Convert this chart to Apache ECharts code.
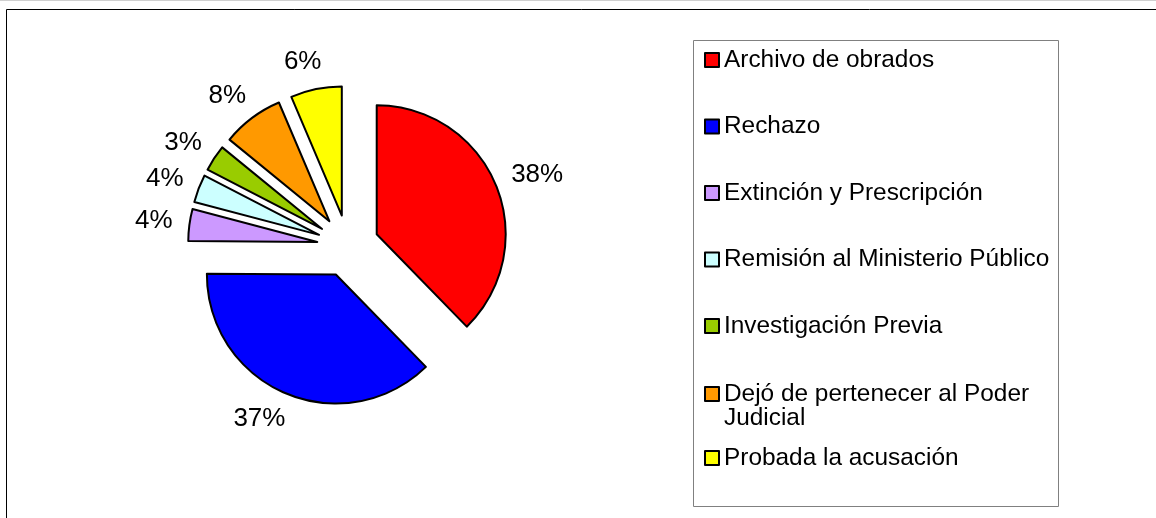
<!DOCTYPE html>
<html><head><meta charset="utf-8">
<script src="https://cdn.jsdelivr.net/npm/echarts@6/dist/echarts.min.js"></script>
<style>html,body{margin:0;padding:0;background:#fff}#c{width:1156px;height:518px}</style>
</head><body><div id="c"></div>
<script>
const categories = ['Archivo de obrados', 'Rechazo', 'Extinción y Prescripción', 'Remisión al Ministerio Público', 'Investigación Previa', 'Dejó de pertenecer al Poder Judicial', 'Probada la acusación'];
const shares = [37.7, 37.4, 4.0, 3.5, 3.3, 7.7, 6.4];
const colors = ['#FF0000', '#0000FF', '#CC99FF', '#CCFFFF', '#99CC00', '#FF9900', '#FFFF00'];

const FONT = '"Liberation Sans", Arial, sans-serif';
const chart = echarts.init(document.getElementById('c'), null, {renderer: 'canvas'});
const legendText = {fontFamily: FONT, fontSize: 24.4, color: '#000', lineHeight: 24};
const legendBase = {
  orient: 'vertical', left: 704, itemWidth: 14, itemHeight: 14, padding: 0,
  textStyle: legendText, selectedMode: false, icon: 'rect',
  itemStyle: {borderColor: '#000', borderWidth: 2}
};
const option = {
  animation: false,
  backgroundColor: '#fff',
  graphic: [
    {type: 'rect', silent: true, shape: {x: 6.5, y: 9.5, width: 1400, height: 800}, style: {fill: 'none', stroke: '#000', lineWidth: 1}},
    {type: 'line', silent: true, shape: {x1: 0, y1: 0.5, x2: 1156, y2: 0.5}, style: {stroke: '#d0d0d0', lineWidth: 1}},
    {type: 'rect', silent: true, shape: {x: 693.5, y: 40.5, width: 365, height: 466}, style: {fill: 'none', stroke: '#808080', lineWidth: 1}}
  ],
  legend: [
    Object.assign({}, legendBase, {top: 48, itemGap: 42.5, data: categories.slice(0, 5)}),
    Object.assign({}, legendBase, {
      top: 358, data: [categories[5]],
      formatter: n => '\n' + n,
      textStyle: Object.assign({}, legendText, {width: 330, overflow: 'break'})
    }),
    Object.assign({}, legendBase, {top: 446, data: [categories[6]]})
  ],
  series: [{
    type: 'pie',
    center: [348, 246],
    radius: 129,
    startAngle: 90,
    clockwise: true,
    selectedMode: 'multiple',
    selectedOffset: 31,
    avoidLabelOverlap: false,
    itemStyle: {borderColor: '#000', borderWidth: 2},
    label: {
      show: true, position: 'outside',
      formatter: p => Math.round(p.percent) + '%',
      fontFamily: FONT, fontSize: 26, color: '#000', distanceToLabelLine: -11
    },
    labelLine: {show: false, length: 28, length2: 0},
    emphasis: {disabled: true},
    data: categories.map((n, i) => ({name: n, value: shares[i], selected: true, itemStyle: {color: colors[i]}}))
  }]
};
chart.setOption(option);
</script>
</body></html>
